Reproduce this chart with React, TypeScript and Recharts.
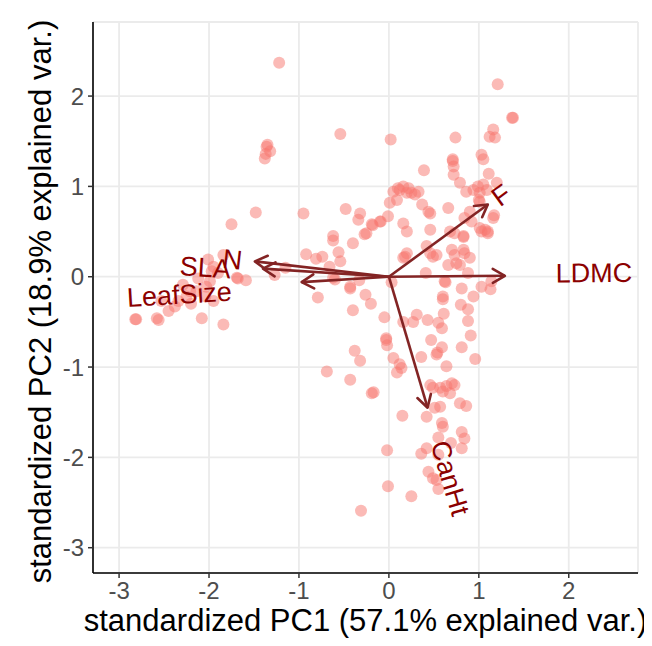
import React from 'react';
import { ScatterChart, Scatter, XAxis, YAxis, CartesianGrid } from 'recharts';

// PCA scores (standardized PC1, PC2)
const scores: [number, number][] = [
    [-1.22, 2.37], [-0.54, 1.58], [-1.36, 1.44], [-1.32, 1.39], [-1.38, 1.31], [-1.35, 1.46], [-1.37, 1.36],
    [0.02, 1.52], [-1.48, 0.71], [-0.95, 0.70], [-1.75, 0.58], [-0.48, 0.75], [-0.32, 0.70], [-0.34, 0.63],
    [-0.18, 0.57], [-0.09, 0.61], [-0.27, 0.47], [-0.25, 0.48], [-0.62, 0.45], [-0.62, 0.40], [-0.40, 0.37],
    [-0.92, 0.25], [-0.81, 0.20], [-0.74, 0.22], [-0.56, 0.27], [-0.54, 0.17], [-0.66, 0.11], [-1.15, 0.10],
    [-1.27, 0.02], [-1.69, -0.01], [-1.68, -0.02], [-1.59, -0.04], [-2.01, 0.19], [-1.84, 0.24], [-0.60, -0.03],
    [-0.62, -0.01], [-0.43, -0.11], [-0.43, -0.13], [-0.26, -0.20], [-0.79, -0.23], [-0.33, -0.04], [-0.20, -0.30],
    [-0.40, -0.37], [-0.05, -0.45], [0.03, -0.06], [0.18, 0.22],
    [-1.95, 0.11], [-1.90, 0.04], [-2.82, -0.47], [-2.81, -0.47], [-2.58, -0.46], [-2.56, -0.48], [-2.45, -0.38],
    [-2.38, -0.33], [-2.34, -0.27], [-2.29, -0.09], [-2.25, -0.22], [-2.21, -0.16], [-2.14, -0.16], [-2.04, -0.22],
    [-1.95, -0.27], [-2.08, -0.46], [-1.84, -0.53], [-2.03, -0.11], [-1.99, -0.05], [-2.53, -0.27], [-2.20, -0.30],
    [-2.12, -0.02], [-1.97, 0.06],
    [1.21, 2.13], [1.38, 1.76], [1.37, 1.76], [0.74, 1.54], [1.16, 1.63], [1.12, 1.55], [1.18, 1.54],
    [1.03, 1.35], [1.05, 1.30], [0.71, 1.28], [0.71, 1.30], [0.72, 1.22], [0.72, 1.13], [0.39, 1.18],
    [1.11, 1.14], [0.79, 1.04], [0.86, 0.94], [0.94, 0.96], [0.99, 1.00], [1.05, 1.02], [1.09, 0.96],
    [1.20, 1.04], [1.01, 0.93], [1.01, 0.83], [1.00, 0.85], [1.16, 0.65], [1.17, 0.68], [0.90, 0.72],
    [0.84, 0.65], [0.92, 0.61], [1.01, 0.54], [1.07, 0.52], [1.10, 0.50], [0.66, 0.76], [0.68, 0.50],
    [0.73, 0.48], [0.83, 0.44], [0.05, 0.94], [0.10, 0.98], [0.16, 1.00], [0.20, 0.93], [0.25, 0.93],
    [0.33, 0.94], [0.29, 0.91], [0.09, 0.85], [0.01, 0.82], [0.12, 0.96], [0.22, 0.98], [-0.01, 0.67],
    [-0.10, 0.61], [-0.19, 0.58], [0.37, 0.80], [0.44, 0.72], [0.46, 0.70], [0.16, 0.59], [0.20, 0.50],
    [0.46, 0.52], [0.42, 0.34], [0.46, 0.26], [0.49, 0.22], [0.53, 0.24], [0.20, 0.26], [0.16, 0.21],
    [0.70, 0.30], [0.73, 0.24], [0.83, 0.30], [0.84, 0.26], [0.90, 0.21], [0.75, 0.15], [0.66, 0.13],
    [0.79, 0.13], [0.88, 0.04], [0.41, 0.04], [0.62, -0.05], [0.63, -0.06], [1.03, -0.11], [1.14, -0.05],
    [0.81, -0.13], [0.60, -0.22], [0.94, -0.22], [1.13, -0.14], [0.83, 0.45], [1.03, 0.50], [1.10, 0.48],
    [0.60, -0.25], [0.61, -0.41], [0.80, -0.31], [0.88, -0.36], [0.88, -0.49], [0.16, -0.50], [0.27, -0.50],
    [0.31, -0.42], [0.43, -0.48], [0.55, -0.51], [0.59, -0.57], [0.91, -0.65], [0.47, -0.70], [-0.03, -0.70],
    [-0.03, -0.68], [-0.02, -0.76], [-0.38, -0.82], [-0.32, -0.93], [0.59, -0.78], [0.53, -0.86], [0.54, -0.84],
    [0.81, -0.78], [0.96, -0.91], [0.36, -0.89], [0.64, -0.99], [0.05, -0.90], [0.12, -0.97], [0.14, -1.01],
    [0.09, -1.06], [-0.69, -1.05], [-0.43, -1.14], [-0.19, -1.29], [-0.17, -1.28], [0.46, -1.20], [0.49, -1.23],
    [0.57, -1.23], [0.64, -1.21], [0.70, -1.18], [0.73, -1.20], [0.60, -1.27], [0.68, -1.29], [0.79, -1.40],
    [0.86, -1.43], [0.51, -1.45], [0.57, -1.44], [0.42, -1.55], [0.15, -1.54], [0.59, -1.62], [0.60, -1.66],
    [0.81, -1.72], [0.84, -1.79], [0.81, -1.90], [0.55, -1.78], [0.69, -1.84], [0.42, -1.90], [0.36, -1.96],
    [0.55, -1.97], [-0.02, -1.92], [0.44, -2.16], [0.49, -2.23], [0.53, -2.25], [0.55, -2.35], [-0.01, -2.32],
    [0.25, -2.43], [-0.31, -2.59],
];

// variable loadings (arrow tips) and where their names sit
const traits = ['LDMC', 'F', 'CanHt', 'N', 'SLA', 'LeafSize'];
const loadX = [1.29, 1.10, 0.43, -1.49, -1.40, -0.97];
const loadY = [0.01, 0.80, -1.45, 0.17, 0.09, -0.06];
const labelX = [2.28, 1.25, 0.68, -1.74, -2.04, -2.33];
const labelY = [0.04, 0.90, -2.23, 0.19, 0.10, -0.20];

const xTicks = [-3, -2, -1, 0, 1, 2];
const yTicks = [-3, -2, -1, 0, 1, 2];
const xDomain = [-3.29, 2.77];
const yDomain = [-3.28, 2.82];

const W = 640;
const H = 630;
const M = { top: 14, right: 10, bottom: 0, left: 0 };
const Y_W = 85;
const X_H = 65;
// pixels per unit, used only to turn data directions into screen angles
const KX = (W - M.left - M.right - Y_W) / (xDomain[1] - xDomain[0]);
const KY = (H - M.top - M.bottom - X_H) / (yDomain[1] - yDomain[0]);

const ARROW = '#832424';
const TEXT = '#8B0000';

const points = scores.map(([x, y]) => ({ x, y }));

const screenAngle = (dx: number, dy: number) => (Math.atan2(-dy * KY, dx * KX) * 180) / Math.PI;

const Dot = (props: any) => {
    const { cx, cy } = props;
    return <circle cx={cx} cy={cy} r={6} fill="#F8766D" fillOpacity={0.5} />;
};

const makeHead = (dx: number, dy: number) => (props: any) => {
    const { cx, cy, payload } = props;
    if (!payload || payload.tip !== 1) return <g />;
    const a = Math.atan2(-dy * KY, dx * KX);
    const len = 14;
    const spread = Math.PI / 6;
    const x1 = cx - len * Math.cos(a - spread);
    const y1 = cy - len * Math.sin(a - spread);
    const x2 = cx - len * Math.cos(a + spread);
    const y2 = cy - len * Math.sin(a + spread);
    return (
        <path
            d={`M${x1},${y1}L${cx},${cy}L${x2},${y2}`}
            fill="none"
            stroke={ARROW}
            strokeWidth={2.6}
            strokeLinecap="round"
            strokeLinejoin="round"
        />
    );
};

const makeLabel = (name: string, dx: number, dy: number) => (props: any) => {
    const { cx, cy } = props;
    let ang = screenAngle(dx, dy);
    if (ang > 90) ang -= 180;
    if (ang < -90) ang += 180;
    return (
        <text
            x={cx}
            y={cy}
            fill={TEXT}
            fontSize={27}
            textAnchor="middle"
            dominantBaseline="central"
            transform={`rotate(${ang} ${cx} ${cy})`}
        >
            {name}
        </text>
    );
};

const XTitle = (props: any) => {
    const { viewBox } = props;
    return (
        <text x={viewBox.x + viewBox.width / 2} y={H - 7} textAnchor="middle" fontSize={31} fill="#000">
            standardized PC1 (57.1% explained var.)
        </text>
    );
};

const YTitle = (props: any) => {
    const { viewBox } = props;
    const cx = 32;
    const cy = viewBox.y + viewBox.height / 2 + 4;
    return (
        <text
            x={cx}
            y={cy}
            textAnchor="middle"
            dominantBaseline="central"
            fontSize={31}
            fill="#000"
            transform={`rotate(-90 ${cx} ${cy})`}
        >
            standardized PC2 (18.9% explained var.)
        </text>
    );
};

const App: React.FC = () => {
    return (
        <div style={{ width: W, height: H, fontFamily: '"Liberation Sans", Arial, sans-serif' }}>
            <ScatterChart width={W} height={H} margin={M}>
                <CartesianGrid stroke="#EBEBEB" strokeWidth={1.8} />
                <XAxis
                    type="number"
                    dataKey="x"
                    domain={xDomain}
                    ticks={xTicks}
                    allowDataOverflow
                    height={X_H}
                    tickSize={5}
                    tickMargin={4}
                    tick={{ fill: '#4D4D4D', fontSize: 24 }}
                    tickLine={{ stroke: '#333333', strokeWidth: 1.5 }}
                    axisLine={{ stroke: '#000', strokeWidth: 1.6 }}
                    label={<XTitle />}
                />
                <YAxis
                    type="number"
                    dataKey="y"
                    domain={yDomain}
                    ticks={yTicks}
                    allowDataOverflow
                    width={Y_W}
                    tickSize={5}
                    tickMargin={4}
                    tick={{ fill: '#4D4D4D', fontSize: 24 }}
                    tickLine={{ stroke: '#333333', strokeWidth: 1.5 }}
                    axisLine={{ stroke: '#000', strokeWidth: 1.6 }}
                    label={<YTitle />}
                />
                <Scatter data={points} shape={Dot} isAnimationActive={false} />
                {traits.map((t, i) => (
                    <Scatter
                        key={`arrow-${t}`}
                        data={[
                            { x: 0, y: 0, tip: 0 },
                            { x: loadX[i], y: loadY[i], tip: 1 },
                        ]}
                        line={{ stroke: ARROW, strokeWidth: 2.6 }}
                        shape={makeHead(loadX[i], loadY[i])}
                        isAnimationActive={false}
                    />
                ))}
                {traits.map((t, i) => (
                    <Scatter
                        key={`label-${t}`}
                        data={[{ x: labelX[i], y: labelY[i] }]}
                        shape={makeLabel(t, loadX[i], loadY[i])}
                        isAnimationActive={false}
                    />
                ))}
            </ScatterChart>
        </div>
    );
};

export default App;
